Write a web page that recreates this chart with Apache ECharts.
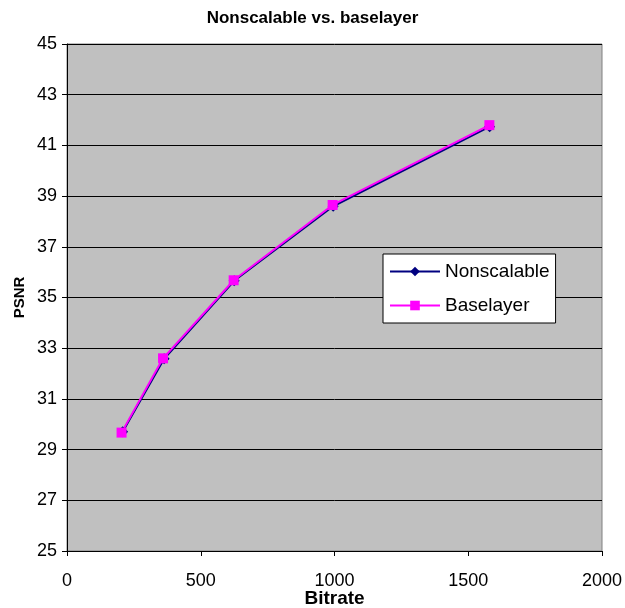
<!DOCTYPE html>
<html>
<head>
<meta charset="utf-8">
<script src="https://cdn.jsdelivr.net/npm/echarts@6/dist/echarts.min.js"></script>
<style>html,body{margin:0;padding:0;background:#fff}#c{width:625px;height:608px}</style>
</head>
<body>
<div id="c"></div>
<script>
const titleText = 'Nonscalable vs. baselayer';
const xName = 'Bitrate';
const yName = 'PSNR';
const nonscalableX = [208, 363, 625, 995, 1580];
const nonscalableY = [29.7, 32.58, 35.66, 38.6, 41.74];
const baselayerX = [204, 359, 623, 993, 1579];
const baselayerY = [29.67, 32.6, 35.68, 38.65, 41.8];
const xTicks = [0, 500, 1000, 1500, 2000];
const yTicks = [25, 27, 29, 31, 33, 35, 37, 39, 41, 43, 45];

const zip = (a, b) => a.map((v, i) => [v, b[i]]);
const font = '"Liberation Sans", Arial, sans-serif';
const chart = echarts.init(document.getElementById('c'));
chart.setOption({
  animation: false,
  title: {
    text: titleText, left: 'center', top: 5,
    textStyle: { fontFamily: font, fontSize: 17, fontWeight: 'bold', color: '#000' }
  },
  grid: {
    left: 67, right: 23, top: 44, bottom: 57, show: true,
    containLabel: false, outerBoundsMode: 'none',
    backgroundColor: '#C0C0C0', borderColor: '#808080', borderWidth: 1
  },
  legend: {
    orient: 'vertical', left: 383, top: 254,
    backgroundColor: '#fff', borderColor: '#000', borderWidth: 1,
    padding: [8, 6, 8, 6], itemWidth: 50, itemHeight: 12, itemGap: 15,
    textStyle: { fontFamily: font, fontSize: 19, color: '#000' },
    data: ['Nonscalable', 'Baselayer']
  },
  xAxis: {
    type: 'value', min: xTicks[0], max: xTicks[xTicks.length - 1], interval: 500,
    name: xName, nameLocation: 'middle', nameGap: 38, nameMoveOverlap: false,
    nameTextStyle: { fontFamily: font, fontSize: 19, fontWeight: 'bold', color: '#000' },
    axisLine: { show: true, lineStyle: { color: '#000', width: 1 } },
    axisTick: { show: true, length: 5, inside: false, lineStyle: { color: '#000' } },
    axisLabel: { fontFamily: font, fontSize: 18, color: '#000', margin: 21,
      formatter: v => String(v) },
    splitLine: { show: false }
  },
  yAxis: {
    type: 'value', min: yTicks[0], max: yTicks[yTicks.length - 1], interval: 2,
    name: yName, nameLocation: 'middle', nameGap: 40, nameRotate: 90, nameMoveOverlap: false,
    nameTextStyle: { fontFamily: font, fontSize: 15, fontWeight: 'bold', color: '#000' },
    axisLine: { show: true, lineStyle: { color: '#000', width: 1 } },
    axisTick: { show: true, length: 5, inside: false, lineStyle: { color: '#000' } },
    axisLabel: { fontFamily: font, fontSize: 18, color: '#000', margin: 10,
      formatter: v => String(v) },
    splitLine: { show: true, lineStyle: { color: '#000', width: 1 } }
  },
  series: [
    {
      name: 'Nonscalable', type: 'line', data: zip(nonscalableX, nonscalableY),
      symbol: 'diamond', symbolSize: 11,
      lineStyle: { color: '#000080', width: 2 },
      itemStyle: { color: '#000080' }
    },
    {
      name: 'Baselayer', type: 'line', data: zip(baselayerX, baselayerY),
      symbol: 'rect', symbolSize: 10,
      lineStyle: { color: '#FF00FF', width: 2 },
      itemStyle: { color: '#FF00FF' }
    }
  ]
});
</script>
</body>
</html>
